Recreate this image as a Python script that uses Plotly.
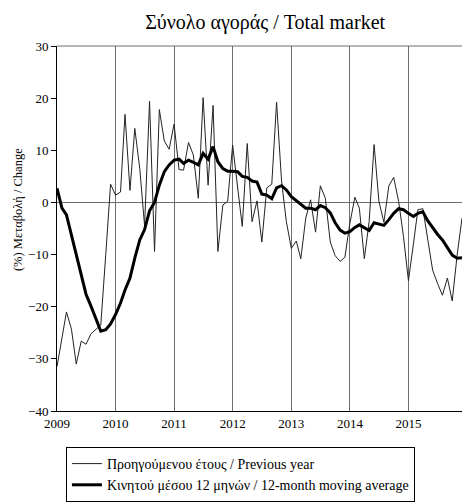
import plotly.graph_objects as go
import pandas as pd

months = pd.date_range("2009-01-01", "2015-12-01", freq="MS")

prev_year = [
    -31.5, -26.0, -21.0, -24.3, -31.0, -26.6, -27.2, -25.2, -24.3, -23.5, -10.0, 3.5,
    1.4, 2.0, 16.9, 2.3, 14.2, 6.5, -4.5, 19.4, -9.4, 17.8, 11.8, 10.2,
    15.0, 6.3, 6.2, 11.5, 9.1, 0.8, 20.1, 3.3, 18.6, -9.4, -0.5, 0.2,
    11.0, 3.0, -4.6, 11.3, -3.7, 0.3, -7.6, 2.8, 3.5, 19.2, 4.1, -3.7,
    -8.8, -7.4, -10.8, -3.0, 0.5, -5.7, 3.2, 0.8, -7.6, -10.2, -11.3, -10.5,
    -4.0, 1.0, -1.1, -10.8, -3.7, 11.1, 0.2, -3.8, 3.2, 4.8, 0.2, -6.5,
    -15.0, -8.0, -1.4, -1.2, -7.0, -13.0, -15.5, -17.8, -14.5, -18.9, -10.0, -3.0,
]

moving_avg = [
    2.7, -1.1, -2.4, -6.2, -10.1, -13.9, -17.6, -19.9, -22.4, -24.7, -24.4, -23.3,
    -21.5, -19.3, -16.8, -14.5, -10.7, -7.2, -5.2, -1.6, 0.0, 3.3, 5.9, 7.2,
    8.1, 8.3, 7.5, 8.1, 7.7, 7.2, 9.4, 8.3, 10.7, 7.8, 6.5, 6.0,
    6.0, 5.9, 5.0, 4.8, 4.1, 3.9, 1.6, 1.4, 0.7, 2.8, 3.2, 2.4,
    1.1, 0.3, -0.3, -1.1, -1.1, -1.4, -0.6, -1.0, -2.0, -3.9, -5.3, -5.9,
    -5.6, -4.8, -4.3, -4.9, -5.4, -3.9, -4.2, -4.4, -3.3, -2.1, -1.2, -1.4,
    -2.1, -2.7, -2.1, -1.8, -3.5, -4.9, -6.1, -7.2, -8.8, -10.1, -10.7, -10.6,
]

title_text = "Σύνολο αγοράς / Total market"
y_title = "(%) Μεταβολή / Change"
name_prev = "Προηγούμενου έτους / Previous year"
name_ma = "Κινητού μέσου 12 μηνών / 12-month moving average"

FONT = "Liberation Serif"

fig = go.Figure()
fig.add_trace(go.Scatter(x=months, y=prev_year, mode="lines", name=name_prev,
                         line=dict(color="#222222", width=1)))
fig.add_trace(go.Scatter(x=months, y=moving_avg, mode="lines", name=name_ma,
                         line=dict(color="black", width=3)))

fig.update_layout(
    width=462, height=502,
    margin=dict(l=57, r=0, t=46, b=89),
    paper_bgcolor="white", plot_bgcolor="white",
    font=dict(family=FONT, size=13, color="black"),
    title=dict(text=title_text, x=0.514, xref="paper", xanchor="center",
               y=1 - 22 / 502, yref="container", yanchor="middle",
               font=dict(family=FONT, size=20, color="black")),
    showlegend=True,
    legend=dict(x=0.022, y=-0.10, xanchor="left", yanchor="top",
                bordercolor="black", borderwidth=1, bgcolor="white",
                font=dict(family=FONT, size=14), tracegroupgap=0,
                itemwidth=30),
)

fig.update_xaxes(
    type="date", range=["2009-01-01", "2015-12-01"],
    tick0="2009-01-01", dtick="M12", tickformat="%Y",
    showgrid=True, gridcolor="#6e6e6e", gridwidth=1,
    showline=True, linecolor="black", linewidth=1,
    ticks="", tickfont=dict(size=13), zeroline=False,
)
fig.update_yaxes(
    range=[-40, 30], dtick=10, showgrid=False,
    zeroline=True, zerolinecolor="#6e6e6e", zerolinewidth=1,
    showline=True, linecolor="black", linewidth=1,
    ticks="outside", ticklen=5, tickcolor="black",
    tickfont=dict(size=13),
)

fig.add_annotation(text=y_title, xref="paper", yref="paper",
                   x=(18 - 57) / 405, y=(413 - 211) / 367,
                   xanchor="center", yanchor="middle", textangle=-90,
                   showarrow=False, font=dict(family=FONT, size=12.5))

fig.add_shape(type="line", xref="paper", yref="paper", x0=0, x1=1, y0=1, y1=1,
              line=dict(color="#6e6e6e", width=1))

fig.write_html("out.html",
               config={"displayModeBar": False},
               post_script="document.body.style.margin='0';document.body.style.overflow='hidden';")
